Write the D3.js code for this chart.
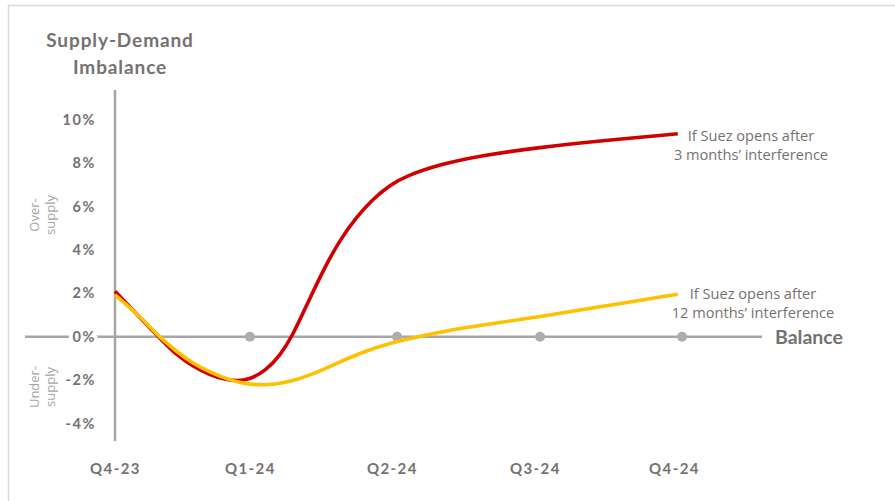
<!DOCTYPE html>
<html><head><meta charset="utf-8">
<script src="https://cdn.jsdelivr.net/npm/d3@7"></script>
<style>
html,body{margin:0;padding:0;background:#fff;}
svg{display:block;font-family:Lato, "Open Sans", sans-serif;}
</style></head>
<body><svg id="c" width="895" height="501"></svg>
<script>
// x in months since start of Q4-23, y in % imbalance
const quarterLabels = ["Q4-23","Q1-24","Q2-24","Q3-24","Q4-24"];
const quarterLabelPos = [0, 2.85, 5.85, 8.87, 11.81];
const balanceDotPos = [2.85, 5.96, 8.98, 11.98];
const yTicks = [-4,-2,0,2,4,6,8,10];

const redX = [0, 0.3, 0.6, 0.95, 1.3, 1.65, 2.01, 2.3, 2.55, 2.85, 3.2, 3.49, 3.74, 4.05, 4.40, 4.75, 5.11, 5.46, 5.81, 6.16, 6.87, 7.71, 8.98, 10.25, 11.89];
const redY = [2.1, 1.4, 0.72, -0.07, -0.85, -1.37, -1.77, -1.96, -2.05, -1.98, -1.54, -0.85, 0, 1.46, 3.08, 4.46, 5.54, 6.38, 7.0, 7.43, 7.95, 8.35, 8.74, 9.03, 9.36];
const yelX = [0, 0.32, 0.6, 0.88, 1.3, 1.65, 2.01, 2.36, 2.71, 3.13, 3.63, 4.12, 4.61, 5.32, 6.02, 7.08, 7.71, 8.98, 10.25, 11.89];
const yelY = [1.93, 1.34, 0.77, 0.11, -0.69, -1.23, -1.64, -1.95, -2.16, -2.25, -2.13, -1.78, -1.3, -0.62, -0.17, 0.31, 0.52, 0.93, 1.38, 1.96];

const redLabel = ["If Suez opens after","3 months’ interference"];
const yelLabel = ["If Suez opens after","12 months’ interference"];

const svg = d3.select("#c");
const textCol = "#767171", axisCol = "#A6A6A6";
const x = d3.scaleLinear().domain([0,12]).range([115,683]);
const y = d3.scaleLinear().domain([-4.81,11.38]).range([441,90]);

// frame
svg.append("line").attr("x1",8).attr("x2",895).attr("y1",5.5).attr("y2",5.5).attr("stroke","#d9d9d9").attr("stroke-width",1.5);
svg.append("line").attr("x1",8.5).attr("x2",8.5).attr("y1",5).attr("y2",501).attr("stroke","#d9d9d9").attr("stroke-width",1.5);

// zero line
svg.append("line").attr("x1",25).attr("x2",762).attr("y1",y(0)).attr("y2",y(0)).attr("stroke",axisCol).attr("stroke-width",2.5);
// vertical axis
svg.append("line").attr("x1",x(0)).attr("x2",x(0)).attr("y1",90).attr("y2",441).attr("stroke",axisCol).attr("stroke-width",2.5);

// y tick labels
const ya = d3.axisLeft(y).tickValues(yTicks).tickSize(0).tickPadding(19).tickFormat(d=>d+"%");
const yg = svg.append("g").attr("transform",`translate(${x(0)},0)`).call(ya);
yg.select(".domain").remove();
yg.selectAll("text").attr("fill",textCol).attr("font-size",14.5).attr("font-weight",700)
  .attr("font-family","Lato, sans-serif").attr("letter-spacing",1.6)
  .attr("stroke","#fff").attr("stroke-width",8).attr("paint-order","stroke")
  .attr("stroke-opacity",d=>d===0?1:0);

// dots on balance line
svg.selectAll("circle.bd").data(balanceDotPos).enter().append("circle")
  .attr("cx",d=>x(d)).attr("cy",y(0)).attr("r",5).attr("fill","#B0ACAC");

// x labels
const xa = d3.axisBottom(x).tickValues(quarterLabelPos).tickSize(0).tickPadding(0)
  .tickFormat((d,i)=>quarterLabels[i]);
const xg = svg.append("g").attr("transform","translate(0,463)").call(xa);
xg.select(".domain").remove();
xg.selectAll("text").attr("fill",textCol).attr("font-size",15).attr("font-weight",700)
  .attr("font-family","Lato, sans-serif").attr("letter-spacing",1.4);

// lines
const line = d3.line().x(d=>x(d[0])).y(d=>y(d[1])).curve(d3.curveBasis);
const yelData = yelX.map((v,i)=>[v,yelY[i]]);
const redData = redX.map((v,i)=>[v,redY[i]]);
svg.append("path").attr("d",line(redData)).attr("fill","none").attr("stroke","#D00000").attr("stroke-width",3.6);
svg.append("path").attr("d",line(yelData)).attr("fill","none").attr("stroke","#FFC000").attr("stroke-width",3.6);

// titles
const title = svg.append("text").attr("fill",textCol).attr("font-size",19).attr("font-weight",700)
  .attr("text-anchor","middle").attr("letter-spacing",0.9);
title.append("tspan").attr("x",120).attr("y",47).text("Supply-Demand");
title.append("tspan").attr("x",120).attr("y",74).text("Imbalance");

svg.append("text").attr("x",775).attr("y",344).attr("fill",textCol).attr("font-size",19.5).attr("font-weight",700).text("Balance");

// side labels
function side(lines, cx, cy){
  const t = svg.append("text").attr("transform",`translate(${cx},${cy}) rotate(-90)`)
    .attr("fill","#A6A6A6").attr("font-size",13).attr("font-family","'Open Sans', sans-serif").attr("text-anchor","middle");
  lines.forEach((l,i)=>t.append("tspan").attr("x",0).attr("y",i*16.5).text(l));
}
side(["Over-","supply"], 38.5, 215);
side(["Under-","supply"], 38.5, 387);

// annotations
function annot(lines, cx, y0){
  const t = svg.append("text").attr("fill",textCol).attr("font-size",14.6)
    .attr("font-family","'Open Sans', sans-serif").attr("text-anchor","middle");
  lines.forEach((l,i)=>t.append("tspan").attr("x",cx).attr("y",y0+i*19).text(l));
}
annot(redLabel, 751, 141);
annot(yelLabel, 753, 299);
</script></body></html>
